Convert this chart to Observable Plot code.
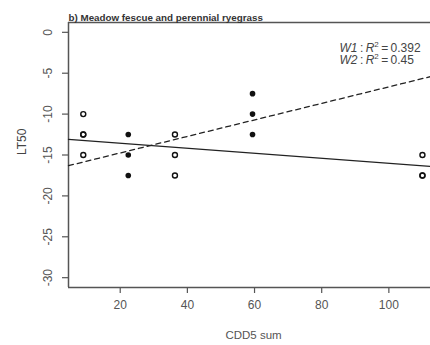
<!DOCTYPE html>
<html>
<head>
<meta charset="utf-8">
<script src="https://cdn.jsdelivr.net/npm/d3@7"></script>
<script src="https://cdn.jsdelivr.net/npm/@observablehq/plot@0.6"></script>
<style>
  html, body { margin: 0; padding: 0; background: #fff; }
  svg { display: block; }
</style>
</head>
<body>
<div id="chart"></div>
<script>
// ---- data ----
const title = "b) Meadow fescue and perennial ryegrass";
const xLabel = "CDD5 sum";
const yLabel = "LT50";
const xTicks = [20, 40, 60, 80, 100];
const yTicks = [0, -5, -10, -15, -20, -25, -30];
const xDomain = [4.6, 112.4];
const yDomain = [-31.2, 1.2];

// filled points
const filledX = [22.4, 22.4, 22.4, 59.4, 59.4, 59.4];
const filledY = [-12.5, -15, -17.5, -7.5, -10, -12.5];
// open points
const openX = [9, 9, 9, 9, 36.3, 36.3, 36.3, 110, 110, 110];
const openY = [-10, -12.5, -12.5, -15, -12.5, -15, -17.5, -15, -17.5, -17.5];

// fitted regression lines (intercept, slope)
const fitIntercept = [-12.96, -16.77];
const fitSlope = [-0.0306, 0.101];

const annotNames = ["W1", "W2"];
const annotR2 = ["0.392", "0.45"];

// ---- build tables ----
const filled = filledX.map((x, i) => ({x, y: filledY[i]}));
const open = openX.map((x, i) => ({x, y: openY[i]}));
const fitLine = k => xDomain.map(x => ({x, y: fitIntercept[k] + fitSlope[k] * x}));
const annotText = annotNames.map((n, i) => `${n} : R2 = ${annotR2[i]}`);

const font = "'Liberation Sans', Arial, sans-serif";
const axisColor = "#555";

const chart = Plot.plot({
  width: 430,
  height: 345,
  marginLeft: 68,
  marginRight: 0,
  marginTop: 22,
  marginBottom: 58,
  style: {fontFamily: font, background: "#fff"},
  x: {domain: xDomain},
  y: {domain: yDomain},
  marks: [
    // frame lines (left, top, bottom)
    Plot.ruleX([xDomain[0]], {stroke: axisColor, strokeWidth: 1.5}),
    Plot.ruleY([yDomain[0], yDomain[1]], {stroke: axisColor, strokeWidth: 1.5}),
    // axes ticks
    Plot.axisX({ticks: xTicks, tickSize: 6, text: null, stroke: axisColor, strokeWidth: 1.2, label: null}),
    Plot.text(xTicks, {x: d => d, text: d => String(d), frameAnchor: "bottom", dy: 21,
      fontSize: 12, fill: "#555"}),
    Plot.axisY({ticks: yTicks, tickSize: 6, text: null, stroke: axisColor, strokeWidth: 1.2, label: null}),
    Plot.text(yTicks, {y: d => d, text: d => String(d), frameAnchor: "left", dx: -20,
      rotate: -90, fontSize: 12, fill: "#555", textAnchor: "middle"}),
    // axis titles
    Plot.text([xLabel], {frameAnchor: "bottom", dy: 51, dx: 4, fontSize: 11.5, fill: "#555"}),
    Plot.text([yLabel], {frameAnchor: "left", dx: -46, rotate: -90, fontSize: 12, fill: "#444"}),
    // title
    Plot.text([title], {frameAnchor: "top-left", dy: -8, dx: 0, textAnchor: "start",
      fontWeight: "bold", fontSize: 9.8, fill: "#333"}),
    // regression lines
    Plot.line(fitLine(0), {x: "x", y: "y", stroke: "#222", strokeWidth: 1.3}),
    Plot.line(fitLine(1), {x: "x", y: "y", stroke: "#222", strokeWidth: 1.3, strokeDasharray: "5,4"}),
    // points
    Plot.dot(open, {x: "x", y: "y", r: 2.5, stroke: "#111", strokeWidth: 1.4, fill: "none"}),
    Plot.dot(filled, {x: "x", y: "y", r: 2.8, fill: "#111", stroke: "none"}),
    // annotation (plain text first; styled with tspans below)
    Plot.text([annotText[0]], {frameAnchor: "top-left", dx: 271, dy: 21,
      textAnchor: "start", fontSize: 12, fill: "#444"}),
    Plot.text([annotText[1]], {frameAnchor: "top-left", dx: 271, dy: 33,
      textAnchor: "start", fontSize: 12, fill: "#444"})
  ]
});
document.getElementById("chart").appendChild(chart);

// style the annotation with italic symbols and superscripts
const ns = "http://www.w3.org/2000/svg";
chart.querySelectorAll("text").forEach(t => {
  const m = t.textContent.match(/^(W\d) : R2 = (.*)$/);
  if (!m) return;
  t.textContent = "";
  const add = (txt, attrs) => {
    const sp = document.createElementNS(ns, "tspan");
    sp.textContent = txt;
    for (const k in attrs) sp.setAttribute(k, attrs[k]);
    t.appendChild(sp);
  };
  add(m[1], {"font-style": "italic"});
  add("\u2009:\u2009", {});
  add("R", {"font-style": "italic"});
  add("2", {"font-size": 8, dy: -5});
  add("\u2009=\u2009" + m[2], {dy: 5});
});
</script>
</body>
</html>
